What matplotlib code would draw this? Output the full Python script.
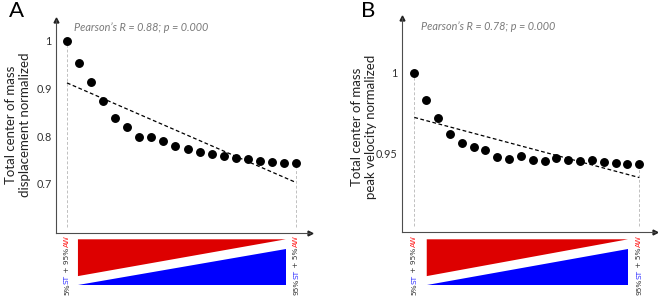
import matplotlib
matplotlib.use("Agg")
import matplotlib.pyplot as plt
import numpy as np
from matplotlib.patches import Polygon

plt.rcParams['font.family'] = ['Lato', 'DejaVu Sans']

# ---------------- data ----------------
steps = list(range(1, 21))
disp_norm = [1.000, 0.953, 0.913, 0.873, 0.838, 0.820, 0.798, 0.799, 0.790, 0.780,
             0.773, 0.766, 0.763, 0.759, 0.754, 0.752, 0.748, 0.746, 0.744, 0.743]
disp_fit = [0.912, 0.703]          # dashed trend line at first / last step
vel_norm = [1.000, 0.983, 0.9717, 0.9618, 0.9562, 0.9541, 0.9519, 0.9479, 0.9465, 0.9481,
            0.9457, 0.9454, 0.9469, 0.9458, 0.9454, 0.9457, 0.9448, 0.9442, 0.9435, 0.9435]
vel_fit = [0.9723, 0.935]

disp_ticks = [0.7, 0.8, 0.9, 1.0]
disp_ticklabels = ["0.7", "0.8", "0.9", "1"]
vel_ticks = [0.95, 1.0]
vel_ticklabels = ["0.95", "1"]

stats_A = "Pearson\u2019s R = 0.88; p = 0.000"
stats_B = "Pearson\u2019s R = 0.78; p = 0.000"
ylab_A = "Total center of mass\ndisplacement normalized"
ylab_B = "Total center of mass\npeak velocity normalized"
left_label = [("5%", "#333333"), ("ST", "#3030ff"), (" + 95%", "#333333"), ("AW", "#ff2020")]
right_label = [("95%", "#333333"), ("ST", "#3030ff"), (" + 5%", "#333333"), ("AW", "#ff2020")]

W, H = 658, 298
fig = plt.figure(figsize=(W / 100, H / 100), dpi=100)


def px_axes(left, top, right, bottom):
    return fig.add_axes([left / W, 1 - bottom / H, (right - left) / W, (bottom - top) / H])


AXIS_COL = "#4d4d4d"


def make_panel(box, xlim, ylim, yvals, fit, ticks, ticklabels, stats, stats_xy,
               tri_box, tri_off, labels_pair):
    ax = px_axes(*box)
    ax.set_xlim(*xlim)
    ax.set_ylim(*ylim)
    for s in ("top", "right"):
        ax.spines[s].set_visible(False)
    for s in ("left", "bottom"):
        ax.spines[s].set_color(AXIS_COL)
        ax.spines[s].set_linewidth(0.8)
    ax.set_xticks([])
    ax.set_yticks(ticks)
    ax.set_yticklabels(ticklabels)
    ax.tick_params(axis="y", length=0, pad=3, labelsize=7.8, labelcolor="#333333")
    # arrow heads
    ax.plot([0], [1], marker="^", ms=3.5, color="#222222", transform=ax.transAxes, clip_on=False)
    ax.plot([1], [0], marker=">", ms=3.5, color="#222222", transform=ax.transAxes, clip_on=False)
    # grey dashed guides
    ybot = ylim[0] + 0.03 * (ylim[1] - ylim[0])
    ax.vlines([steps[0]], ybot, yvals[0] - 0.02 * (ylim[1] - ylim[0]), colors="#c0c0c0",
              linestyles=(0, (3, 2)), lw=0.7)
    ax.vlines([steps[-1]], ybot, yvals[-1] - 0.02 * (ylim[1] - ylim[0]), colors="#c0c0c0",
              linestyles=(0, (3, 2)), lw=0.7)
    # trend line
    ax.plot([steps[0], steps[-1]], fit, color="black", lw=0.9, dashes=(3, 2))
    # points
    ax.plot(steps, yvals, "o", color="black", ms=5.4, mec="black")
    ax.text(stats_xy[0], stats_xy[1], stats, transform=ax.transAxes, ha="left", va="center",
            style="italic", fontsize=7.8, color="#7a7a7a")

    # triangle strip
    tax = px_axes(*tri_box)
    tax.set_xlim(*xlim)
    tax.set_ylim(0, 1)
    tax.axis("off")
    x1 = steps[0] + tri_off[0]
    x2 = steps[-1] - tri_off[1]
    tax.add_patch(Polygon([(x1, 1), (x2, 1), (x1, 0.2)], closed=True, color="#dd0000", lw=0))
    tax.add_patch(Polygon([(x1, 0), (x2, 0), (x2, 0.79)], closed=True, color="#0000ff", lw=0))
    top_y = 1.08
    for xpos, pieces in zip((steps[0], steps[-1]), labels_pair):
        prev = None
        for txt, col in reversed(pieces):
            if prev is None:
                prev = tax.text(xpos, top_y, txt, rotation=90, ha="center", va="top",
                                fontsize=5.3, color=col, family="DejaVu Sans", clip_on=False)
            else:
                prev = tax.annotate(txt, xy=(0.5, 0), xycoords=prev, rotation=90, ha="center",
                                    va="top", fontsize=5.3, color=col, family="DejaVu Sans",
                                    annotation_clip=False)
    return ax


make_panel((56, 20, 310, 233), (0.09, 21.16), (0.597, 1.044), disp_norm, disp_fit,
           disp_ticks, disp_ticklabels, stats_A, (0.071, 0.967),
           (56, 239.3, 310, 285.3), (0.91, 0.85), (left_label, right_label))
make_panel((402, 18, 655, 232), (-0.04, 21.33), (0.9012, 1.034), vel_norm, vel_fit,
           vel_ticks, vel_ticklabels, stats_B, (0.075, 0.958),
           (402, 239.3, 655, 285.3), (1.05, 0.95), (left_label, right_label))

fig.text(18 / W, 1 - 125 / H, ylab_A, rotation=90, ha="center", va="center",
         fontsize=9.5, color="#222222", linespacing=1.12, multialignment="center")
fig.text(364 / W, 1 - 127 / H, ylab_B, rotation=90, ha="center", va="center",
         fontsize=9.5, color="#222222", linespacing=1.12, multialignment="center")
fig.text(9 / W, 1 - 11 / H, "A", ha="left", va="center", fontsize=16, color="black")
fig.text(361 / W, 1 - 11 / H, "B", ha="left", va="center", fontsize=16, color="black")

fig.savefig("out.png", dpi=100)
